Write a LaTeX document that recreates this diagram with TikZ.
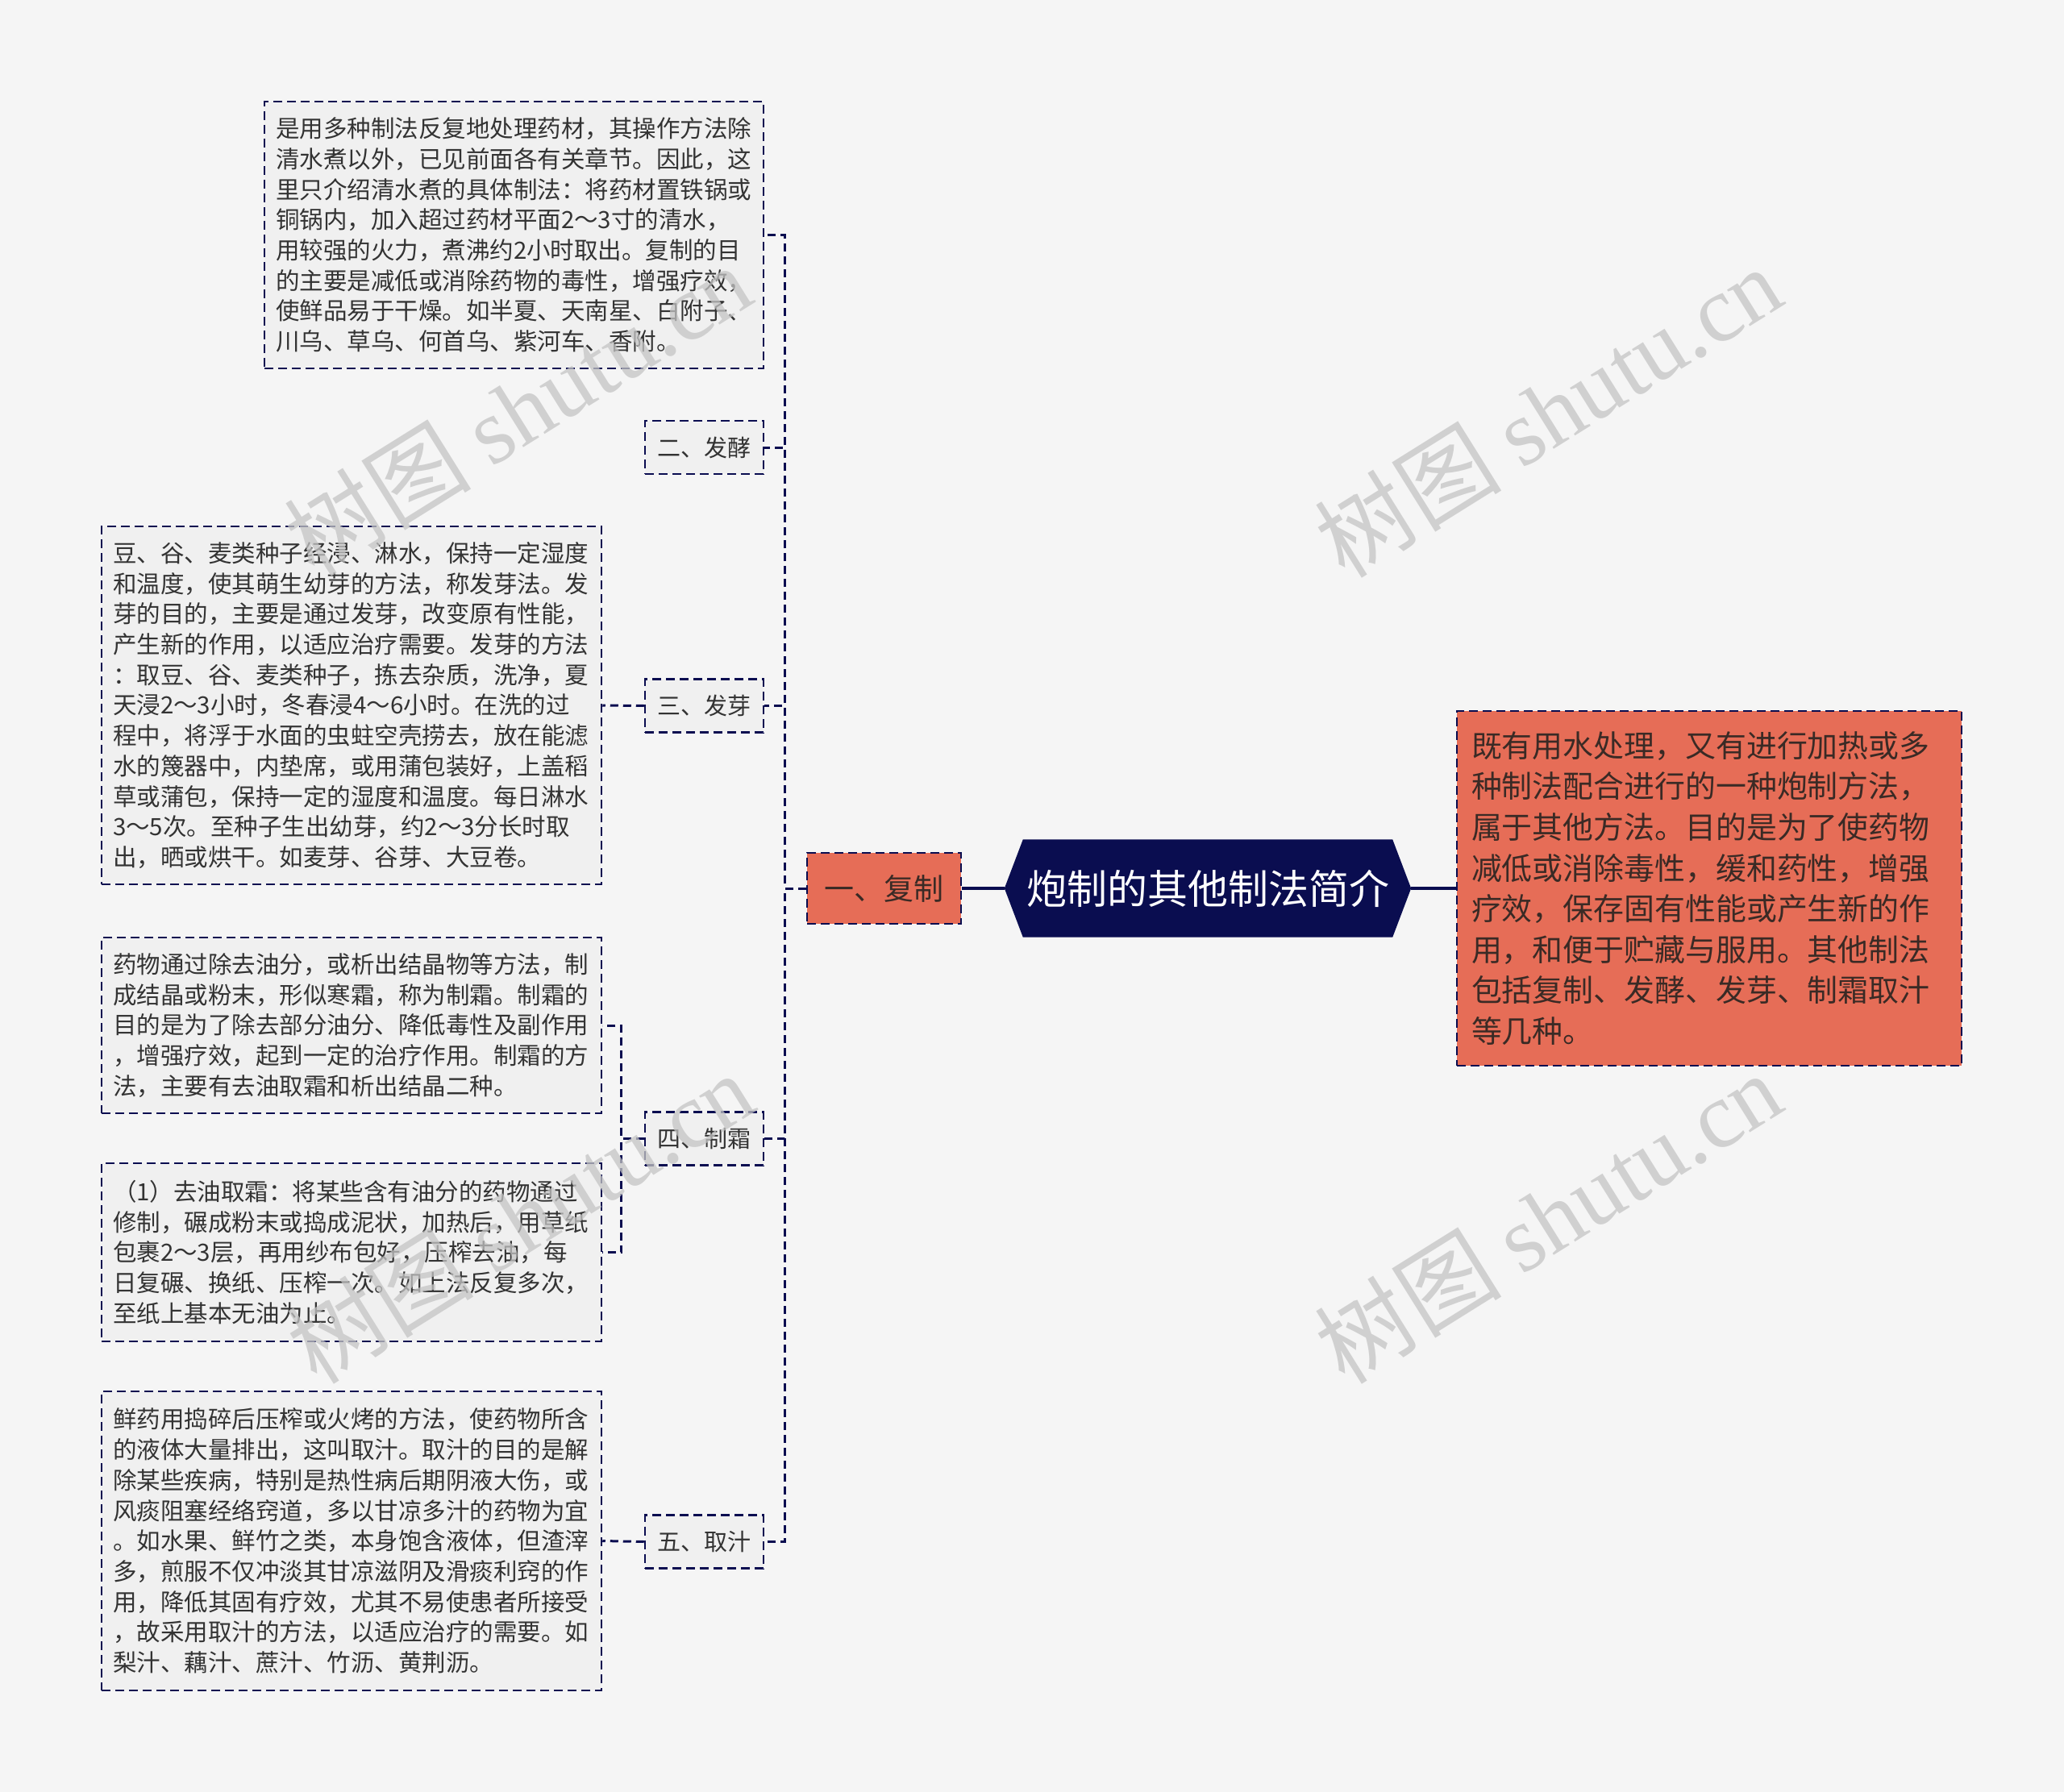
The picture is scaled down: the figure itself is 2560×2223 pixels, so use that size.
\documentclass[tikz,border=0pt]{standalone}
\usepackage{fontspec}
\setmainfont{Noto Sans CJK SC}
\newfontfamily\wmlatin{Liberation Serif}
\usetikzlibrary{backgrounds,calc}
\definecolor{navy}{HTML}{0A0D50}
\definecolor{orng}{HTML}{E66D57}
\definecolor{boxfill}{HTML}{F0F0F0}
\definecolor{pagebg}{HTML}{F5F5F5}
\definecolor{txt}{HTML}{333333}
\definecolor{fztxt}{HTML}{3A2A25}
\definecolor{wm}{HTML}{C4C4C4}
\tikzset{
  dbox/.style={draw=navy, line width=2.5pt, dash pattern=on 11pt off 6pt, fill=boxfill, rectangle, inner ysep=0pt, text=txt, align=left, anchor=center},
  bodytext/.style={dbox, font=\fontsize{29.5}{37.7}\selectfont, text width=592pt, inner xsep=14pt, minimum width=620pt},
  branch/.style={dbox, font=\fontsize{29}{35}\selectfont, minimum width=147pt, minimum height=66pt, inner xsep=0pt, align=center},
  conn/.style={draw=navy, line width=3pt, dash pattern=on 10pt off 6pt},
  solidconn/.style={draw=navy, line width=4pt},
  wmark/.style={text=wm, rotate=32, font=\fontsize{116}{120}\selectfont, text opacity=0.75}
}
\begin{document}
\begin{tikzpicture}[x=1pt, y=-1pt]
\useasboundingbox (0,0) rectangle (2560,2223);

\node[bodytext, minimum height=331pt, text width=591pt, minimum width=619pt] (fztext) at (637.5,291.5) {是用多种制法反复地处理药材，其操作方法除\\清水煮以外，已见前面各有关章节。因此，这\\里只介绍清水煮的具体制法：将药材置铁锅或\\铜锅内，加入超过药材平面2～3寸的清水，\\用较强的火力，煮沸约2小时取出。复制的目\\的主要是减低或消除药物的毒性，增强疗效，\\使鲜品易于干燥。如半夏、天南星、白附子、\\川乌、草乌、何首乌、紫河车、香附。};

\node[branch] (fj) at (873.5,555) {二、发酵};
\node[branch] (fy) at (873.5,875.5) {三、发芽};
\node[bodytext, minimum height=444pt] (fytext) at (436,875) {豆、谷、麦类种子经浸、淋水，保持一定湿度\\和温度，使其萌生幼芽的方法，称发芽法。发\\芽的目的，主要是通过发芽，改变原有性能，\\产生新的作用，以适应治疗需要。发芽的方法\\：取豆、谷、麦类种子，拣去杂质，洗净，夏\\天浸2～3小时，冬春浸4～6小时。在洗的过\\程中，将浮于水面的虫蛀空壳捞去，放在能滤\\水的篾器中，内垫席，或用蒲包装好，上盖稻\\草或蒲包，保持一定的湿度和温度。每日淋水\\3～5次。至种子生出幼芽，约2～3分长时取\\出，晒或烘干。如麦芽、谷芽、大豆卷。};

\node[branch] (zs) at (873.5,1412.5) {四、制霜};
\node[bodytext, minimum height=218pt] (zstext) at (436,1272) {药物通过除去油分，或析出结晶物等方法，制\\成结晶或粉末，形似寒霜，称为制霜。制霜的\\目的是为了除去部分油分、降低毒性及副作用\\，增强疗效，起到一定的治疗作用。制霜的方\\法，主要有去油取霜和析出结晶二种。};
\node[bodytext, minimum height=221pt] (qytext) at (436,1553.5) {（1）去油取霜：将某些含有油分的药物通过\\修制，碾成粉末或捣成泥状，加热后，用草纸\\包裹2～3层，再用纱布包好，压榨去油，每\\日复碾、换纸、压榨一次。如上法反复多次，\\至纸上基本无油为止。};

\node[branch] (qz) at (873.5,1912.5) {五、取汁};
\node[bodytext, minimum height=371pt] (qztext) at (436,1911.5) {鲜药用捣碎后压榨或火烤的方法，使药物所含\\的液体大量排出，这叫取汁。取汁的目的是解\\除某些疾病，特别是热性病后期阴液大伤，或\\风痰阻塞经络窍道，多以甘凉多汁的药物为宜\\。如水果、鲜竹之类，本身饱含液体，但渣滓\\多，煎服不仅冲淡其甘凉滋阴及滑痰利窍的作\\用，降低其固有疗效，尤其不易使患者所接受\\，故采用取汁的方法，以适应治疗的需要。如\\梨汁、藕汁、蔗汁、竹沥、黄荆沥。};

\node[dbox, fill=orng, minimum width=191pt, minimum height=88pt, inner xsep=0pt, align=center, text=fztxt, font=\fontsize{37}{40}\selectfont] (fz) at (1096.5,1102) {一、复制};

\node[minimum width=504pt, minimum height=121pt, inner sep=0pt, text=white, font=\fontsize{50}{55}\selectfont] (root) at (1498,1102) {炮制的其他制法简介};

\node[dbox, fill=orng, minimum width=626pt, minimum height=440pt, text width=590pt, inner xsep=18pt, text=fztxt, font=\fontsize{37.9}{50.6}\selectfont] (desc) at (2120,1102) {既有用水处理，又有进行加热或多\\种制法配合进行的一种炮制方法，\\属于其他方法。目的是为了使药物\\减低或消除毒性，缓和药性，增强\\疗效，保存固有性能或产生新的作\\用，和便于贮藏与服用。其他制法\\包括复制、发酵、发芽、制霜取汁\\等几种。};

\begin{scope}[on background layer]
  \fill[pagebg] (0,0) rectangle (2560,2223);
  \fill[navy] (root.west) -- ([xshift=23pt]root.north west) -- ([xshift=-23pt]root.north east) -- (root.east) -- ([xshift=-23pt]root.south east) -- ([xshift=23pt]root.south west) -- cycle;
\end{scope}

% connectors
\draw[solidconn] (root.west) -- (fz.east);
\draw[solidconn] (root.east) -- (desc.west);
\foreach \c in {fztext,fj,fy,zs,qz}{
  \draw[conn] (fz.west) -- ++(-26,0) |- (\c.east);
}
\draw[conn] (fy.west) -- (fytext.east);
\draw[conn] (zs.west) -- ++(-28,0) |- (zstext.east);
\draw[conn] (zs.west) -- ++(-28,0) |- (qytext.east);
\draw[conn] (qz.west) -- (qztext.east);

% watermarks
\node[wmark] (wm1) at (642,508) {树图 {\wmlatin shutu.cn}};
\node[wmark] (wm2) at (1920,510) {树图 {\wmlatin shutu.cn}};
\node[wmark] (wm3) at (645,1510) {树图 {\wmlatin shutu.cn}};
\node[wmark] (wm4) at (1920,1510) {树图 {\wmlatin shutu.cn}};
\end{tikzpicture}
\end{document}
